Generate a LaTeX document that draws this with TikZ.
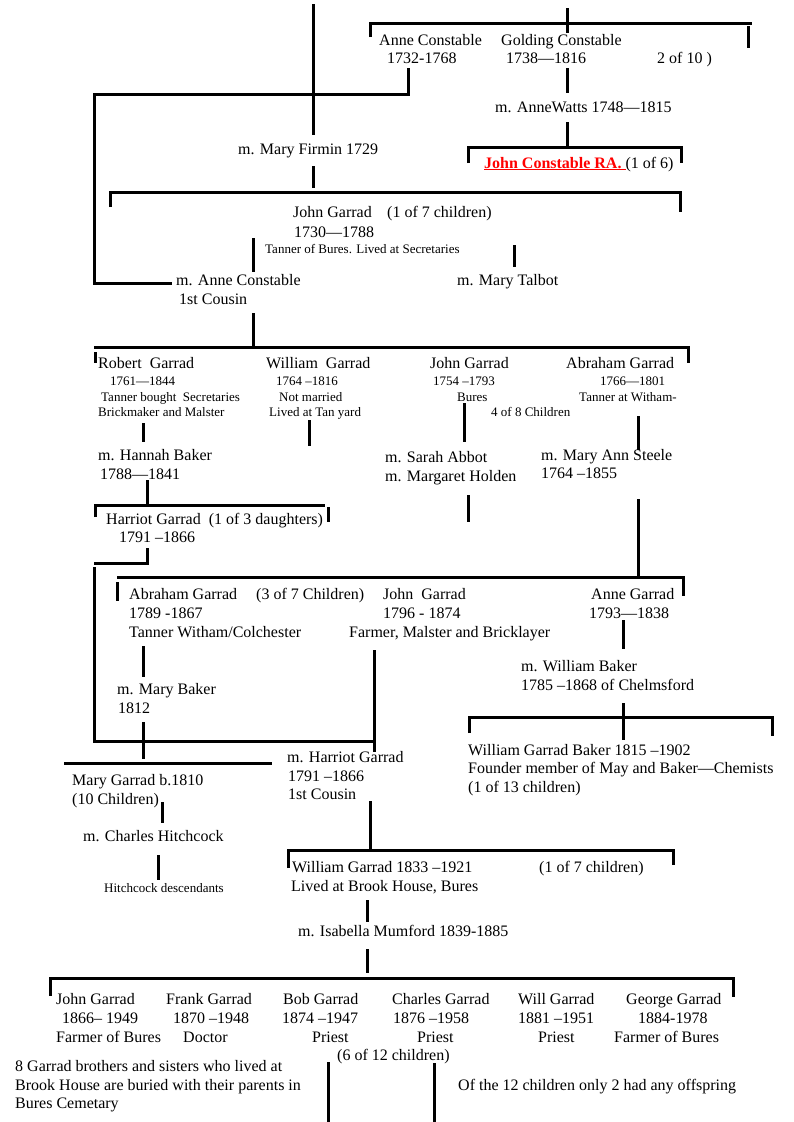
\documentclass[tikz,border=0pt]{standalone}
\usepackage{fontspec}
\setmainfont{Liberation Serif}
\definecolor{rared}{HTML}{FF0000}
\usetikzlibrary{positioning}

\begin{document}
\begin{tikzpicture}[x=1pt, y=-1pt,
  lbl/.style={anchor=base west, inner sep=0pt, font=\fontsize{16}{19}\selectfont},
  sml/.style={anchor=base west, inner sep=0pt, font=\fontsize{13}{15}\selectfont},
  bar/.style={line width=3pt}
]
  \useasboundingbox (0,0) rectangle (793,1122);

  % Constable generation
  \node[lbl] (anne) at (379,45) {Anne Constable};
  \node[lbl] (anneyr) at (387,63) {1732-1768};
  \node[lbl] (gold) at (501,45) {Golding Constable};
  \node[lbl] (goldyr) at (506,63) {1738—1816};
  \node[lbl] (tenth) at (657,63) {2 of 10 )};
  \node[lbl] (watts) at (495,112) {m. AnneWatts 1748—1815};
  \node[lbl] (jcra) at (484,168) {\textcolor{rared}{\underline{\textbf{John Constable RA.}\ }}(1 of 6)};
  \node[lbl] (firmin) at (238,154) {m. Mary Firmin 1729};

  % John Garrad 1730
  \node[lbl] (jg) at (293,217) {John Garrad};
  \node[lbl] (jgof) at (387,217) {(1 of 7 children)};
  \node[lbl] (jgyr) at (294,237) {1730—1788};
  \node[sml] (jgjob) at (265,253) {Tanner of Bures. Lived at Secretaries};
  \node[lbl] (mac) at (176,285) {m. Anne Constable};
  \node[lbl] (macc) at (179,304) {1st Cousin};
  \node[lbl] (talbot) at (457,285) {m. Mary Talbot};

  % four sons
  \node[lbl] (rob) at (98,368) {Robert\ \ Garrad};
  \node[sml] (robyr) at (110,385) {1761—1844};
  \node[sml] (robj1) at (101,401) {Tanner bought\ \ Secretaries};
  \node[sml] (robj2) at (98,416) {Brickmaker and Malster};
  \node[lbl] (wil) at (266,368) {William\ \ Garrad};
  \node[sml] (wilyr) at (276,385) {1764 –1816};
  \node[sml] (wilj1) at (279,401) {Not married};
  \node[sml] (wilj2) at (269,416) {Lived at Tan yard};
  \node[lbl] (jon) at (430,368) {John Garrad};
  \node[sml] (jonyr) at (433,385) {1754 –1793};
  \node[sml] (jonj) at (457,401) {Bures};
  \node[sml] (eight) at (491,416) {4 of 8 Children};
  \node[lbl] (abr) at (566,368) {Abraham Garrad};
  \node[sml] (abryr) at (600,385) {1766—1801};
  \node[sml] (abrj) at (579,401) {Tanner at Witham-};

  \node[lbl] (hannah) at (98,460) {m. Hannah Baker};
  \node[lbl] (hannahyr) at (100,479) {1788—1841};
  \node[lbl] (sarah) at (385,462) {m. Sarah Abbot};
  \node[lbl] (marg) at (385,481) {m. Margaret Holden};
  \node[lbl] (steele) at (541,460) {m. Mary Ann Steele};
  \node[lbl] (steeleyr) at (541,478) {1764 –1855};

  \node[lbl] (harr) at (106,524) {Harriot Garrad\ \ (1 of 3 daughters)};
  \node[lbl] (harryr) at (119,542) {1791 –1866};

  % children of Abraham
  \node[lbl] (abr2) at (129,599) {Abraham Garrad};
  \node[lbl] (abr2of) at (256,599) {(3 of 7 Children)};
  \node[lbl] (abr2yr) at (129,618) {1789 -1867};
  \node[lbl] (abr2j) at (129,637) {Tanner Witham/Colchester};
  \node[lbl] (jon2) at (383,599) {John\ \ Garrad};
  \node[lbl] (jon2yr) at (383,618) {1796 - 1874};
  \node[lbl] (jon2j) at (349,637) {Farmer, Malster and Bricklayer};
  \node[lbl] (anng) at (591,599) {Anne Garrad};
  \node[lbl] (anngyr) at (589,618) {1793—1838};

  \node[lbl] (mbaker) at (117,694) {m. Mary Baker};
  \node[lbl] (mbakeryr) at (118,713) {1812};
  \node[lbl] (wbaker) at (521,671) {m. William Baker};
  \node[lbl] (wbakeryr) at (521,690) {1785 –1868 of Chelmsford};
  \node[lbl] (mharr) at (287,762) {m. Harriot Garrad};
  \node[lbl] (mharryr) at (288,781) {1791 –1866};
  \node[lbl] (mharrc) at (288,799) {1st Cousin};
  \node[lbl] (mary) at (72,785) {Mary Garrad b.1810};
  \node[lbl] (maryten) at (72,804) {(10 Children)};
  \node[lbl] (hitch) at (83,841) {m. Charles Hitchcock};
  \node[sml] (hitchd) at (104,892) {Hitchcock descendants};
  \node[lbl] (wgb) at (468,755) {William Garrad Baker 1815 –1902};
  \node[lbl] (wgbj) at (468,773) {Founder member of May and Baker—Chemists};
  \node[lbl] (wgbof) at (468,792) {(1 of 13 children)};

  % Brook House
  \node[lbl] (wg) at (292,872) {William Garrad 1833 –1921};
  \node[lbl] (wgof) at (539,872) {(1 of 7 children)};
  \node[lbl] (wgj) at (291,891) {Lived at Brook House, Bures};
  \node[lbl] (isab) at (298,936) {m. Isabella Mumford 1839-1885};

  % the twelve
  \node[lbl] (c1) at (56,1004) {John Garrad};
  \node[lbl] (c1yr) at (62,1023) {1866– 1949};
  \node[lbl] (c1j) at (56,1042) {Farmer of Bures};
  \node[lbl] (c2) at (166,1004) {Frank Garrad};
  \node[lbl] (c2yr) at (173,1023) {1870 –1948};
  \node[lbl] (c2j) at (183,1042) {Doctor};
  \node[lbl] (c3) at (283,1004) {Bob Garrad};
  \node[lbl] (c3yr) at (282,1023) {1874 –1947};
  \node[lbl] (c3j) at (312,1042) {Priest};
  \node[lbl] (c4) at (392,1004) {Charles Garrad};
  \node[lbl] (c4yr) at (393,1023) {1876 –1958};
  \node[lbl] (c4j) at (417,1042) {Priest};
  \node[lbl] (c5) at (518,1004) {Will Garrad};
  \node[lbl] (c5yr) at (518,1023) {1881 –1951};
  \node[lbl] (c5j) at (538,1042) {Priest};
  \node[lbl] (c6) at (626,1004) {George Garrad};
  \node[lbl] (c6yr) at (638,1023) {1884-1978};
  \node[lbl] (c6j) at (614,1042) {Farmer of Bures};
  \node[lbl] (twelve) at (337,1060) {(6 of 12 children)};
  \node[lbl] (note1) at (15,1071) {8 Garrad brothers and sisters who lived at};
  \node[lbl] (note2) at (15,1090) {Brook House are buried with their parents in};
  \node[lbl] (note3) at (15,1108) {Bures Cemetary};
  \node[lbl] (note4) at (458,1090) {Of the 12 children only 2 had any offspring};

  % lines
  \draw[bar] (313,4) -- (313,135);
  \draw[bar] (313,166) -- (313,188);
  \draw[bar] (370,37) -- (370,23) -- (752,23);
  \draw[bar] (748,26) -- (748,48);
  \draw[bar] (567,8) -- (567,33);
  \draw[bar] (408,68) -- (408,94) -- (94,94) -- (94,283) -- (172,283);
  \draw[bar] (567,68) -- (567,93);
  \draw[bar] (567,122) -- (567,147);
  \draw[bar] (468,163) -- (468,147) -- (681,147) -- (681,163);
  \draw[bar] (110,207) -- (110,192) -- (680,192) -- (680,212);
  \draw[bar] (253,238) -- (253,272);
  \draw[bar] (514,245) -- (514,267);
  \draw[bar] (253,313) -- (253,347);
  \draw[bar] (94,347) -- (688,347) -- (688,363);
  \draw[bar] (95,352) -- (95,363);
  \draw[bar] (143,423) -- (143,442);
  \draw[bar] (309,420) -- (309,446);
  \draw[bar] (464,403) -- (464,442);
  \draw[bar] (638,416) -- (638,450);
  \draw[bar] (147,480) -- (147,505);
  \draw[bar] (95,517) -- (95,505) -- (325,505);
  \draw[bar] (328,507) -- (328,522);
  \draw[bar] (468,495) -- (468,522);
  \draw[bar] (638,499) -- (638,577);
  \draw[bar] (117,577) -- (683,577) -- (683,596);
  \draw[bar] (117,582) -- (117,601);
  \draw[bar] (147,548) -- (147,563) -- (94,563);
  \draw[bar] (94,567) -- (94,741) -- (374,741);
  \draw[bar] (374,650) -- (374,752);
  \draw[bar] (143,646) -- (143,677);
  \draw[bar] (143,722) -- (143,759);
  \draw[bar] (64,763) -- (272,763);
  \draw[bar] (162,802) -- (162,823);
  \draw[bar] (158,855) -- (158,880);
  \draw[bar] (623,620) -- (623,649);
  \draw[bar] (623,703) -- (623,740);
  \draw[bar] (469,733) -- (469,717) -- (772,717) -- (772,736);
  \draw[bar] (370,801) -- (370,850);
  \draw[bar] (288,868) -- (288,850) -- (673,850) -- (673,865);
  \draw[bar] (367,900) -- (367,922);
  \draw[bar] (367,949) -- (367,973);
  \draw[bar] (49,978) -- (733,978) -- (733,997);
  \draw[bar] (50,980) -- (50,996);
  \draw[bar] (328,1062) -- (328,1122);
  \draw[bar] (434,1063) -- (434,1122);
\end{tikzpicture}
\end{document}
